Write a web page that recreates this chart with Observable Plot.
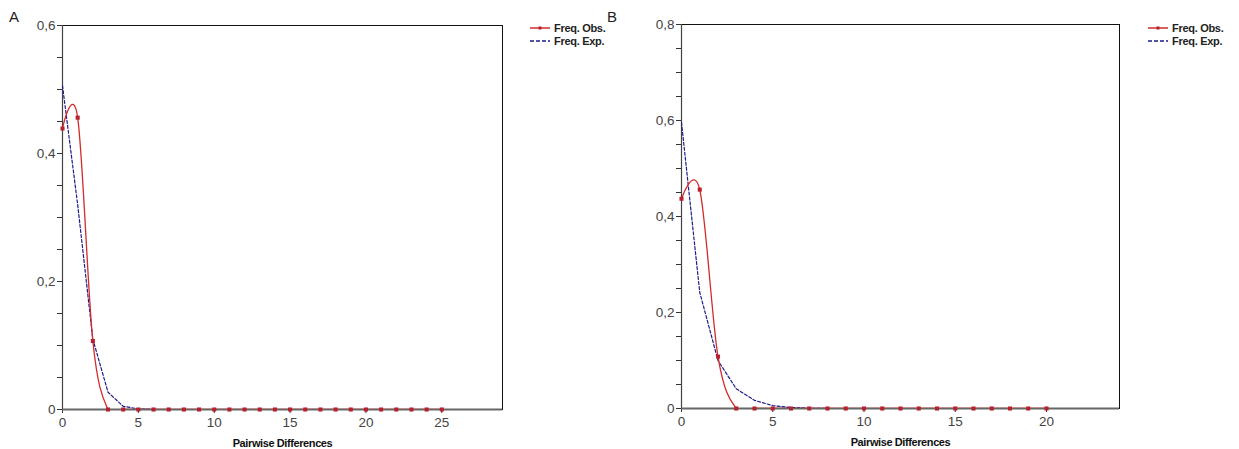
<!DOCTYPE html>
<html>
<head>
<meta charset="utf-8">
<script src="https://cdn.jsdelivr.net/npm/d3@7"></script>
<script src="https://cdn.jsdelivr.net/npm/@observablehq/plot@0.6"></script>
<style>
  html, body { margin: 0; padding: 0; background: #fff; }
  #wrap { position: relative; width: 1239px; height: 449px; overflow: hidden; font-family: "Liberation Sans", Arial, sans-serif; }
  .panel { position: absolute; top: 0; }
  .panel svg { font-family: "Liberation Sans", Arial, sans-serif; }
  .panel g[aria-label$="tick label"] { font-size: 13.5px !important; fill: #444; }
  .panel g[aria-label$="tick label"] text { font-size: 13.5px !important; }
  .panel g[aria-label="x-axis label"] text { font-weight: bold; font-size: 11px !important; fill: #111; letter-spacing: -0.4px; }
  .plabel { position: absolute; font-size: 15px; color: #222; }
  .legend { position: absolute; font-size: 11px; font-weight: bold; color: #222; letter-spacing: -0.3px; }
  .legend div { display: flex; align-items: center; height: 13px; }
  .legend svg { margin-right: 4px; }
</style>
</head>
<body>
<div id="wrap"></div>
<script>
// ---- data ----
const diffsA = [0,1,2,3,4,5,6,7,8,9,10,11,12,13,14,15,16,17,18,19,20,21,22,23,24,25];
const obsA   = [0.439,0.456,0.107,0,0,0,0,0,0,0,0,0,0,0,0,0,0,0,0,0,0,0,0,0,0,0];
const expA   = [0.506,0.32,0.11,0.027,0.005,0.001,0,0,0,0,0,0,0,0,0,0,0,0,0,0,0,0,0,0,0,0];

const diffsB = [0,1,2,3,4,5,6,7,8,9,10,11,12,13,14,15,16,17,18,19,20];
const obsB   = [0.437,0.456,0.108,0,0,0,0,0,0,0,0,0,0,0,0,0,0,0,0,0,0];
const expB   = [0.596,0.242,0.1,0.041,0.017,0.006,0.002,0.0005,0,0,0,0,0,0,0,0,0,0,0,0,0];

const xTicksA = [0,5,10,15,20,25];
const xTicksB = [0,5,10,15,20];
const yLabelsA = [0,0.2,0.4,0.6];
const yLabelsB = [0,0.2,0.4,0.6,0.8];

const legendLabels = ["Freq. Obs.", "Freq. Exp."];
const panelLabels = ["A", "B"];
const xLabel = "Pairwise Differences";

const RED = "#d42a2a", MARK = "#b8202e", BLUE = "#1c1c8a";

function fmt(v) {
  if (Math.abs(v) < 1e-9) return "0";
  return d3.format(".1f")(v).replace(".", ",");
}

function panel({diffs, obs, exp, xMax, yMax, xTicks, yLabels, left, width, mT, mB, mL, mR}) {
  const obsData = diffs.map((d, i) => ({x: d, y: obs[i]}));
  const expData = diffs.map((d, i) => ({x: d, y: exp[i]}));
  const yTicks = d3.range(0, Math.round(yMax / 0.05) + 1).map(k => +(k * 0.05).toFixed(2));
  const labelSet = new Set(yLabels.map(v => v.toFixed(2)));
  const chart = Plot.plot({
    width, height: 449,
    marginTop: mT, marginBottom: mB, marginLeft: mL, marginRight: mR,
    style: {fontSize: "13.5px", color: "#444", background: "white"},
    x: {domain: [0, xMax]},
    y: {domain: [0, yMax]},
    marks: [
      Plot.frame({stroke: "#111", strokeWidth: 1}),
      Plot.axisY({ticks: yTicks, tickSize: 5, tickPadding: 2, stroke: "#333", fill: "#444",
        tickFormat: v => labelSet.has(v.toFixed(2)) ? fmt(v) : "", label: null, fontSize: 13.5}),
      Plot.axisX({ticks: xTicks, tickSize: 4, tickPadding: 4, stroke: "#333", fill: "#444",
        tickFormat: d => String(d), label: xLabel, labelAnchor: "center", labelArrow: "none", labelOffset: 37, fontSize: 13.5}),
      Plot.ruleX([0], {stroke: "#444", strokeWidth: 1.2}),
      Plot.ruleY([0], {stroke: "#666", strokeWidth: 2}),
      Plot.line(expData, {x: "x", y: "y", stroke: BLUE, strokeWidth: 1.2, strokeDasharray: "3,2", clip: true}),
      Plot.line(obsData, {x: "x", y: "y", stroke: RED, strokeWidth: 1.3, curve: "cardinal", clip: true}),
      Plot.dot(obsData, {x: "x", y: "y", symbol: "square", r: 2.3, fill: MARK, stroke: null})
    ]
  });
  const div = document.createElement("div");
  div.className = "panel";
  div.style.left = left + "px";
  div.appendChild(chart);
  return div;
}

const wrap = document.getElementById("wrap");
wrap.appendChild(panel({diffs: diffsA, obs: obsA, exp: expA, xMax: 29, yMax: 0.6,
  xTicks: xTicksA, yLabels: yLabelsA, left: 0, width: 620, mT: 25, mB: 40, mL: 62, mR: 118}));
wrap.appendChild(panel({diffs: diffsB, obs: obsB, exp: expB, xMax: 24, yMax: 0.8,
  xTicks: xTicksB, yLabels: yLabelsB, left: 619, width: 620, mT: 24, mB: 41, mL: 62, mR: 120}));

function addLabel(text, x, y) {
  const d = document.createElement("div");
  d.className = "plabel"; d.textContent = text;
  d.style.left = x + "px"; d.style.top = y + "px";
  wrap.appendChild(d);
}
addLabel(panelLabels[0], 9, 8);
addLabel(panelLabels[1], 607, 8);

function addLegend(x, y) {
  const lg = document.createElement("div");
  lg.className = "legend";
  lg.style.left = x + "px"; lg.style.top = y + "px";
  lg.innerHTML =
    `<div><svg width="20" height="8"><line x1="0" y1="4" x2="20" y2="4" stroke="${RED}" stroke-width="1.5"/><rect x="8.5" y="2.5" width="3" height="3" fill="${MARK}"/></svg>${legendLabels[0]}</div>` +
    `<div><svg width="20" height="8"><line x1="0" y1="4" x2="20" y2="4" stroke="${BLUE}" stroke-width="1.5" stroke-dasharray="4,2"/></svg>${legendLabels[1]}</div>`;
  wrap.appendChild(lg);
}
addLegend(530, 21);
addLegend(1148, 21);
</script>
</body>
</html>
